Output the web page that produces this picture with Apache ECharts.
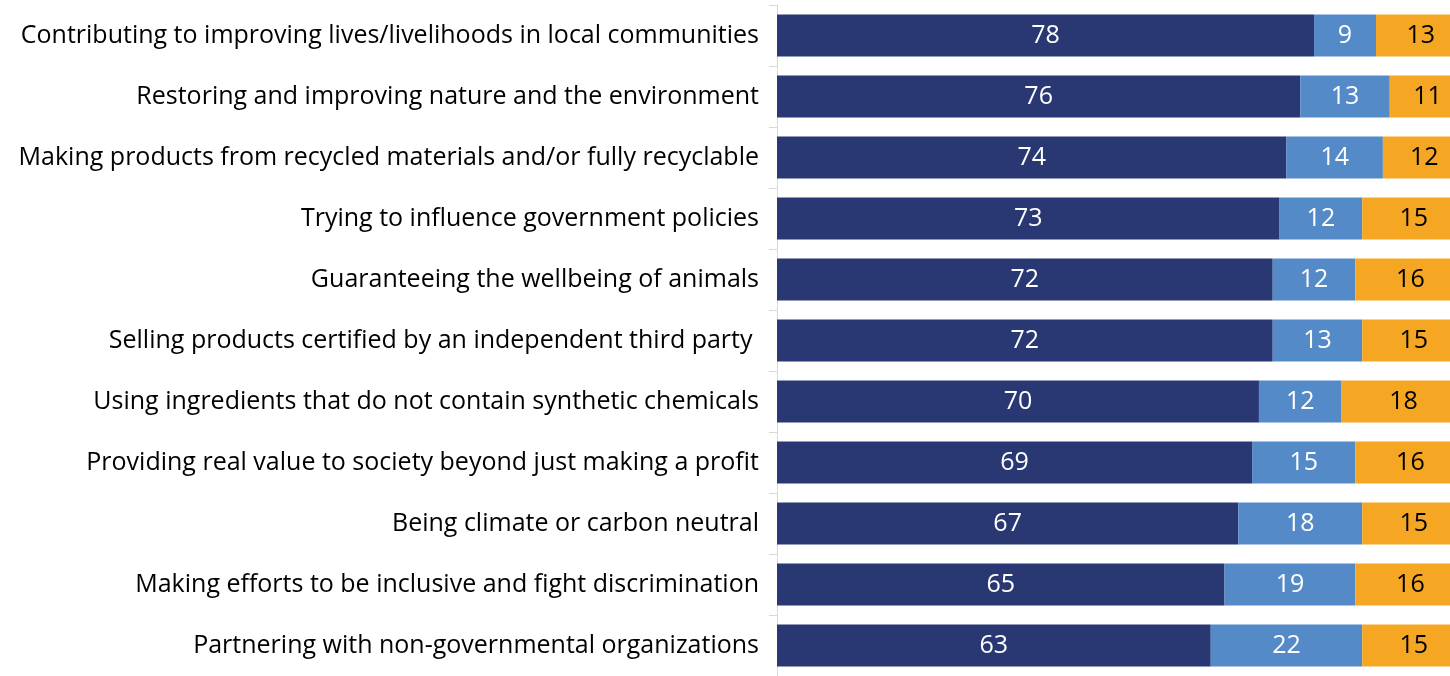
<!DOCTYPE html>
<html><head><meta charset="utf-8">
<script src="https://cdn.jsdelivr.net/npm/echarts@6/dist/echarts.min.js"></script>
<style>html,body{margin:0;padding:0;background:#fff}#c{width:1450px;height:676px}</style>
</head><body><div id="c"></div>
<script>
const categories = [
  "Contributing to improving lives/livelihoods in local communities",
  "Restoring and improving nature and the environment",
  "Making products from recycled materials and/or fully recyclable",
  "Trying to influence government policies",
  "Guaranteeing the wellbeing of animals",
  "Selling products certified by an independent third party ",
  "Using ingredients that do not contain synthetic chemicals",
  "Providing real value to society beyond just making a profit",
  "Being climate or carbon neutral",
  "Making efforts to be inclusive and fight discrimination",
  "Partnering with non-governmental organizations"
];
const seriesA = [78, 76, 74, 73, 72, 72, 70, 69, 67, 65, 63];
const seriesB = [9, 13, 14, 12, 12, 13, 12, 15, 18, 19, 22];
const seriesC = [13, 11, 12, 15, 16, 15, 18, 16, 15, 16, 15];

const FONT = '"Open Sans", Arial, sans-serif';
const chart = echarts.init(document.getElementById('c'));
const lbl = (color) => ({show: true, position: 'inside', color: color, fontSize: 25, fontFamily: FONT, padding: [5, 0, 0, 0]});
const mk = (name, data, color, lc) => ({
  name, type: 'bar', stack: 't', data, barWidth: 42, clip: false,
  itemStyle: {color}, label: lbl(lc), silent: true
});
chart.setOption({
  animation: false,
  grid: {left: 777, top: 5, right: 0, height: 680, containLabel: false},
  xAxis: {type: 'value', min: 0, max: 97.75, show: false},
  yAxis: {
    type: 'category', data: categories, inverse: true,
    axisLine: {show: true, lineStyle: {color: '#d9d9d9', width: 1}},
    axisTick: {show: true, length: 8, lineStyle: {color: '#d9d9d9'}},
    axisLabel: {color: '#000', fontSize: 25, margin: 18, fontFamily: FONT, padding: [5, 0, 0, 0]},
    splitLine: {show: false}
  },
  series: [
    mk('A', seriesA, '#293872', '#fff'),
    mk('B', seriesB, '#558ac9', '#fff'),
    mk('C', seriesC, '#f5a623', '#000')
  ]
});
</script></body></html>
